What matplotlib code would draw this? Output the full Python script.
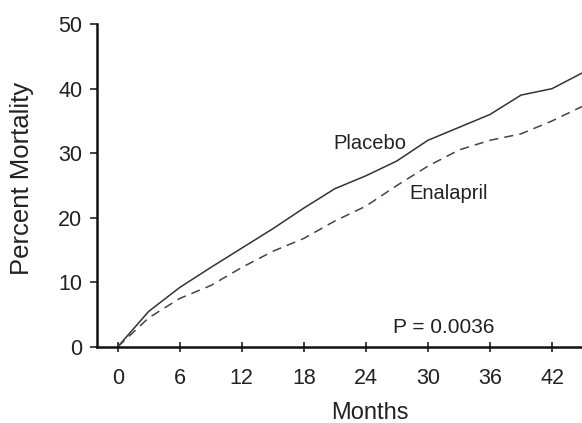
import matplotlib.pyplot as plt
import numpy as np

plt.rcParams['font.family'] = ['Liberation Sans', 'DejaVu Sans']

# Data (months, percent mortality)
months = [0, 3, 6, 9, 12, 15, 18, 21, 24, 27, 30, 33, 36, 39, 42, 45]
placebo = [0, 5.5, 9.2, 12.3, 15.3, 18.3, 21.5, 24.5, 26.5, 28.8, 32.0, 34.0, 36.0, 39.0, 40.0, 42.5]
enalapril = [0, 4.5, 7.5, 9.5, 12.3, 14.8, 16.8, 19.5, 21.8, 25.0, 28.0, 30.5, 32.0, 33.0, 35.0, 37.3]
xticks = [0, 6, 12, 18, 24, 30, 36, 42]
yticks = [0, 10, 20, 30, 40, 50]

fig = plt.figure(figsize=(5.82, 4.23), dpi=100)
ax = fig.add_axes([0.1667, 0.180, 0.8333, 0.763])

ax.plot(months, placebo, color='#333333', linewidth=1.1)
ax.plot(months, enalapril, color='#444444', linewidth=1.1, linestyle=(0, (6, 4)))

ax.set_xlim(-2, 44.9)
ax.set_ylim(0, 50)
ax.set_xticks(xticks)
ax.set_yticks(yticks)

for side in ['top', 'right']:
    ax.spines[side].set_visible(False)
for side in ['left', 'bottom']:
    ax.spines[side].set_linewidth(1.8)
    ax.spines[side].set_color('#111111')

ax.tick_params(axis='y', direction='out', length=5, width=1.2, labelsize=15.5, pad=5.5, colors='#222222')
ax.tick_params(axis='x', direction='inout', length=7, width=1.2, labelsize=15.5, pad=12, colors='#222222')

ax.set_ylabel('Percent Mortality', fontsize=18.5, color='#222222')
ax.set_xlabel('Months', fontsize=17, color='#222222')
ax.yaxis.set_label_coords(-0.13, 0.523)
ax.xaxis.set_label_coords(0.563, -0.17)

ax.text(20.9, 31.5, 'Placebo', fontsize=14.5, color='#222222', va='center')
ax.text(28.2, 23.8, 'Enalapril', fontsize=14.5, color='#222222', va='center')
ax.text(26.6, 3.0, 'P = 0.0036', fontsize=15, color='#222222', va='center')

fig.savefig('out.png', dpi=100)
